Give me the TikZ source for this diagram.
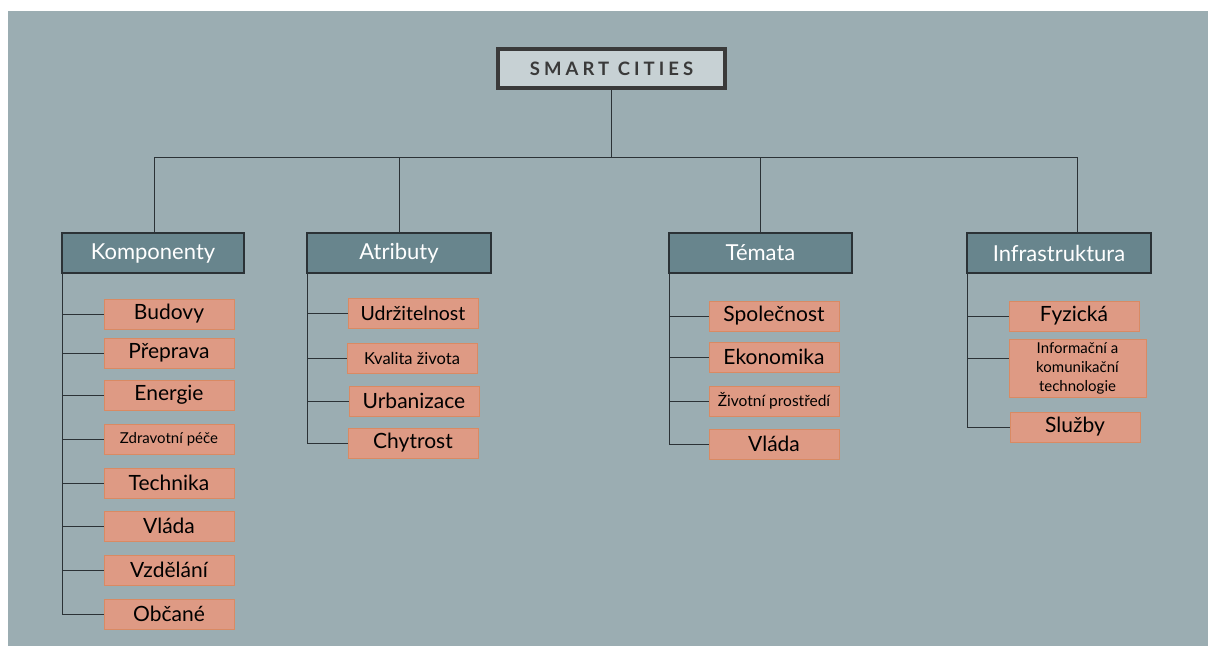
\documentclass[tikz,border=0pt]{standalone}
\usepackage{fontspec}
\setmainfont{Lato}
\usetikzlibrary{positioning}
\usetikzlibrary{calc}

\definecolor{bgblue}{HTML}{9BADB2}
\definecolor{headfill}{HTML}{68858D}
\definecolor{titlefill}{HTML}{C7D1D4}
\definecolor{titleline}{HTML}{3A3A3A}
\definecolor{itemfill}{HTML}{DE9A84}
\definecolor{itemline}{HTML}{D98A63}
\definecolor{darkline}{HTML}{2B3236}

\begin{document}
\begin{tikzpicture}[x=1pt,y=-1pt]
		\tikzset{title/.style = {draw=titleline,line width=4pt,fill=titlefill,text=titleline,minimum width=227pt,minimum height=39pt,inner sep=0pt}}
		\tikzset{head/.style = {draw=darkline,line width=1.3pt,fill=headfill,text=white,font=\fontsize{22}{24}\selectfont,minimum width=182pt,minimum height=40pt,inner sep=0pt}}
		\tikzset{item/.style = {draw=itemline,line width=0.8pt,fill=itemfill,text=black,font=\fontsize{21}{22}\selectfont,minimum width=130pt,minimum height=30pt,inner sep=0pt,align=center}}
		\tikzset{small/.style = {font=\fontsize{15}{19}\selectfont}}
		\tikzset{link/.style = {draw=darkline,line width=1pt}}
		% background
		\fill[white] (0,0) rectangle (1208,646);
		\fill[bgblue] (8,11) rectangle (1208,646);
		% title and headers
		\node[title] (smart) at (611.5,68.5) {\fontsize{18.5}{20}\selectfont\bfseries\addfontfeature{LetterSpace=22}SMART CITIES};
		\node[head] (hkomp) at (153,253) {Komponenty};
		\node[head,minimum width=184pt] (hatr) at (399,253) {Atributy};
		\node[head,minimum width=183pt] (htem) at (760.5,253) {Témata};
		\node[head,minimum width=184pt] (hinf) at (1059,253) {Infrastruktura};
		% komponenty
		\node[item] (k1) at (169,314) {Budovy};
		\node[item] (k2) at (169,353) {Přeprava};
		\node[item] (k3) at (169,395) {Energie};
		\node[item,small] (k4) at (169,439) {Zdravotní péče};
		\node[item] (k5) at (169,483) {Technika};
		\node[item] (k6) at (169,526) {Vláda};
		\node[item] (k7) at (169,570) {Vzdělání};
		\node[item] (k8) at (169,614) {Občané};
		% atributy
		\node[item,font=\fontsize{19.5}{20}\selectfont] (a1) at (413,313) {Udržitelnost};
		\node[item,font=\fontsize{16.5}{19}\selectfont] (a2) at (412,358) {Kvalita života};
		\node[item] (a3) at (414,401) {Urbanizace};
		\node[item] (a4) at (413,443) {Chytrost};
		% temata
		\node[item] (t1) at (774,316) {Společnost};
		\node[item] (t2) at (774,357) {Ekonomika};
		\node[item,font=\fontsize{15.5}{19}\selectfont] (t3) at (774,401) {Životní prostředí};
		\node[item] (t4) at (774,444) {Vláda};
		% infrastruktura
		\node[item] (i1) at (1074,316) {Fyzická};
		\node[item,small,minimum width=137pt,minimum height=58pt] (i2) at (1077.5,368) {Informační a\\komunikační\\technologie};
		\node[item] (i3) at (1075,427) {Služby};
		
		%edges
		\coordinate (barL) at (154,157);
		\coordinate (barR) at (1077,157);
		\draw[link] (smart.south) -- (smart.south |- barL);
		\draw[link] (barL) -- (barR);
		\draw[link] (hkomp.north -| barL) -- (barL);
		\draw[link] (hatr.north) -- (hatr.north |- barL);
		\draw[link] (htem.north) -- (htem.north |- barL);
		\draw[link] (barR) -- (barR |- hinf.north);
		
		\coordinate (tk) at ([xshift=1pt]hkomp.south west);
		\draw[link] (tk) |- (k8.west);
		\draw[link] (tk |- k1.west) -- (k1.west);
		\draw[link] (tk |- k2.west) -- (k2.west);
		\draw[link] (tk |- k3.west) -- (k3.west);
		\draw[link] (tk |- k4.west) -- (k4.west);
		\draw[link] (tk |- k5.west) -- (k5.west);
		\draw[link] (tk |- k6.west) -- (k6.west);
		\draw[link] (tk |- k7.west) -- (k7.west);
		
		\coordinate (ta) at ([xshift=1pt]hatr.south west);
		\draw[link] (ta) |- (a4.west);
		\draw[link] (ta |- a1.west) -- (a1.west);
		\draw[link] (ta |- a2.west) -- (a2.west);
		\draw[link] (ta |- a3.west) -- (a3.west);
		
		\coordinate (tt) at ([xshift=1pt]htem.south west);
		\draw[link] (tt) |- (t4.west);
		\draw[link] (tt |- t1.west) -- (t1.west);
		\draw[link] (tt |- t2.west) -- (t2.west);
		\draw[link] (tt |- t3.west) -- (t3.west);
		
		\coordinate (ti) at ([xshift=1pt]hinf.south west);
		\coordinate (i2in) at ([yshift=10pt]i2.west);
		\draw[link] (ti) |- (i3.west);
		\draw[link] (ti |- i1.west) -- (i1.west);
		\draw[link] (ti |- i2in) -- (i2in);
\end{tikzpicture}
\end{document}
